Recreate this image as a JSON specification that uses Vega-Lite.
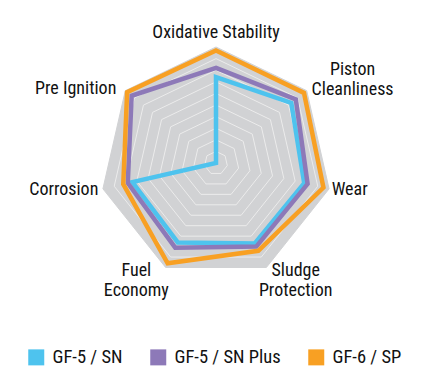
{
  "$schema": "https://vega.github.io/schema/vega-lite/v6.json",
  "width": 427,
  "height": 392,
  "padding": 0,
  "autosize": {"type": "none"},
  "background": "white",
  "config": {
    "view": {"stroke": null},
    "font": "Roboto Condensed, Noto Sans Condensed, DejaVu Sans Condensed, Roboto, sans-serif",
    "axis": {"disable": true}
  },
  "datasets": {
    "grid": [
      {"level": 10, "idx": [0,1,2,3,4,5,6]},
      {"level": 1, "idx": [0,1,2,3,4,5,6]},
      {"level": 2, "idx": [0,1,2,3,4,5,6]},
      {"level": 3, "idx": [0,1,2,3,4,5,6]},
      {"level": 4, "idx": [0,1,2,3,4,5,6]},
      {"level": 5, "idx": [0,1,2,3,4,5,6]},
      {"level": 6, "idx": [0,1,2,3,4,5,6]},
      {"level": 7, "idx": [0,1,2,3,4,5,6]},
      {"level": 8, "idx": [0,1,2,3,4,5,6]},
      {"level": 9, "idx": [0,1,2,3,4,5,6]}
    ],
    "scores": [
      {"series": "GF-5 / SN", "idx": 0, "axis": "Oxidative Stability", "value": 7.4},
      {"series": "GF-5 / SN", "idx": 1, "axis": "Piston Cleanliness", "value": 8.3},
      {"series": "GF-5 / SN", "idx": 2, "axis": "Wear", "value": 7.8},
      {"series": "GF-5 / SN", "idx": 3, "axis": "Sludge Protection", "value": 7.7},
      {"series": "GF-5 / SN", "idx": 4, "axis": "Fuel Economy", "value": 7.6},
      {"series": "GF-5 / SN", "idx": 5, "axis": "Corrosion", "value": 7.4},
      {"series": "GF-5 / SN", "idx": 6, "axis": "Pre Ignition", "value": 0},
      {"series": "GF-5 / SN Plus", "idx": 0, "axis": "Oxidative Stability", "value": 8.2},
      {"series": "GF-5 / SN Plus", "idx": 1, "axis": "Piston Cleanliness", "value": 8.8},
      {"series": "GF-5 / SN Plus", "idx": 2, "axis": "Wear", "value": 8.1},
      {"series": "GF-5 / SN Plus", "idx": 3, "axis": "Sludge Protection", "value": 8.0},
      {"series": "GF-5 / SN Plus", "idx": 4, "axis": "Fuel Economy", "value": 8.1},
      {"series": "GF-5 / SN Plus", "idx": 5, "axis": "Corrosion", "value": 7.8},
      {"series": "GF-5 / SN Plus", "idx": 6, "axis": "Pre Ignition", "value": 9.3},
      {"series": "GF-6 / SP", "idx": 0, "axis": "Oxidative Stability", "value": 9.7},
      {"series": "GF-6 / SP", "idx": 1, "axis": "Piston Cleanliness", "value": 9.7},
      {"series": "GF-6 / SP", "idx": 2, "axis": "Wear", "value": 9.5},
      {"series": "GF-6 / SP", "idx": 3, "axis": "Sludge Protection", "value": 8.4},
      {"series": "GF-6 / SP", "idx": 4, "axis": "Fuel Economy", "value": 9.6},
      {"series": "GF-6 / SP", "idx": 5, "axis": "Corrosion", "value": 8.2},
      {"series": "GF-6 / SP", "idx": 6, "axis": "Pre Ignition", "value": 9.8}
    ],
    "labels": [
      {"idx": 0, "label": "Oxidative Stability"},
      {"idx": 1, "label": "Piston\nCleanliness"},
      {"idx": 2, "label": "Wear"},
      {"idx": 3, "label": "Sludge\nProtection"},
      {"idx": 4, "label": "Fuel\nEconomy"},
      {"idx": 5, "label": "Corrosion"},
      {"idx": 6, "label": "Pre Ignition"}
    ]
  },
  "layer": [
    {
      "data": {"name": "grid"},
      "transform": [
        {"filter": "datum.level == 10"},
        {"flatten": ["idx"]},
        {"calculate": "datum.idx * 2 * PI / 7", "as": "a"},
        {"calculate": "datum.level * sin(datum.a)", "as": "px"},
        {"calculate": "datum.level * cos(datum.a)", "as": "py"}
      ],
      "mark": {"type": "line", "interpolate": "linear-closed", "fill": "#d1d2d4", "stroke": "#d1d2d4", "strokeWidth": 1},
      "encoding": {
        "x": {"field": "px", "type": "quantitative", "scale": {"domain": [-18.621, 18.19], "zero": false, "nice": false}, "axis": null},
        "y": {"field": "py", "type": "quantitative", "scale": {"domain": [-19.741, 14.052], "zero": false, "nice": false}, "axis": null},
        "order": {"field": "idx"}
      }
    },
    {
      "data": {"name": "grid"},
      "transform": [
        {"filter": "datum.level < 10"},
        {"flatten": ["idx"]},
        {"calculate": "datum.idx * 2 * PI / 7", "as": "a"},
        {"calculate": "datum.level * sin(datum.a)", "as": "px"},
        {"calculate": "datum.level * cos(datum.a)", "as": "py"}
      ],
      "mark": {"type": "line", "interpolate": "linear-closed", "stroke": "#ececec", "strokeWidth": 1},
      "encoding": {
        "x": {"field": "px", "type": "quantitative"},
        "y": {"field": "py", "type": "quantitative"},
        "detail": {"field": "level"},
        "order": {"field": "idx"}
      }
    },
    {
      "data": {"name": "scores"},
      "transform": [
        {"calculate": "datum.idx * 2 * PI / 7", "as": "a"},
        {"calculate": "datum.value * sin(datum.a)", "as": "px"},
        {"calculate": "datum.value * cos(datum.a)", "as": "py"}
      ],
      "mark": {"type": "line", "interpolate": "linear-closed", "strokeWidth": 4.5, "strokeJoin": "miter"},
      "encoding": {
        "x": {"field": "px", "type": "quantitative"},
        "y": {"field": "py", "type": "quantitative"},
        "order": {"field": "idx"},
        "color": {
          "field": "series",
          "type": "nominal",
          "scale": {"domain": ["GF-5 / SN", "GF-5 / SN Plus", "GF-6 / SP"], "range": ["#4ec3ee", "#8d79b8", "#f8a023"]},
          "legend": {
            "title": null,
            "orient": "none",
            "direction": "horizontal",
            "legendX": 27,
            "legendY": 348,
            "padding": 0,
            "symbolType": "square",
            "symbolSize": 256,
            "symbolStrokeWidth": 0,
            "labelFontSize": 18.5,
            "labelColor": "#111111",
            "labelOffset": 7,
            "columnPadding": 26,
            "labelLimit": 200,
            "encode": {
              "symbols": {"update": {"fill": {"signal": "scale('color', datum.value)"}, "strokeWidth": {"value": 0}, "opacity": {"value": 1}}}
            }
          }
        }
      }
    },
    {
      "data": {"name": "labels"},
      "transform": [
        {"calculate": "datum.idx * 2 * PI / 7", "as": "a"},
        {"calculate": "split(datum.label, '\\n')", "as": "lines"},
        {"calculate": "max(length(datum.lines[0]), length(datum.lines.length > 1 ? datum.lines[1] : ''))", "as": "maxlen"},
        {"calculate": "sin(datum.a)", "as": "s"},
        {"calculate": "cos(datum.a)", "as": "c"},
        {"calculate": "10.3 * datum.s + (datum.s > 0 ? 1 : -1) * (abs(datum.s) > 0.6 ? datum.maxlen * 0.32 + 0.2 : (abs(datum.s) > 0.1 ? 2.4 : 0))", "as": "px"},
        {"calculate": "10.3 * datum.c + (datum.c > 0.9 ? 0.9 : ((datum.c > 0 && datum.lines.length > 1) ? 1.6 : 0))", "as": "py"}
      ],
      "mark": {"type": "text", "align": "center", "baseline": "middle", "fontSize": 18, "lineHeight": 20, "color": "#111111"},
      "encoding": {
        "x": {"field": "px", "type": "quantitative"},
        "y": {"field": "py", "type": "quantitative"},
        "text": {"field": "lines"}
      }
    }
  ]
}
